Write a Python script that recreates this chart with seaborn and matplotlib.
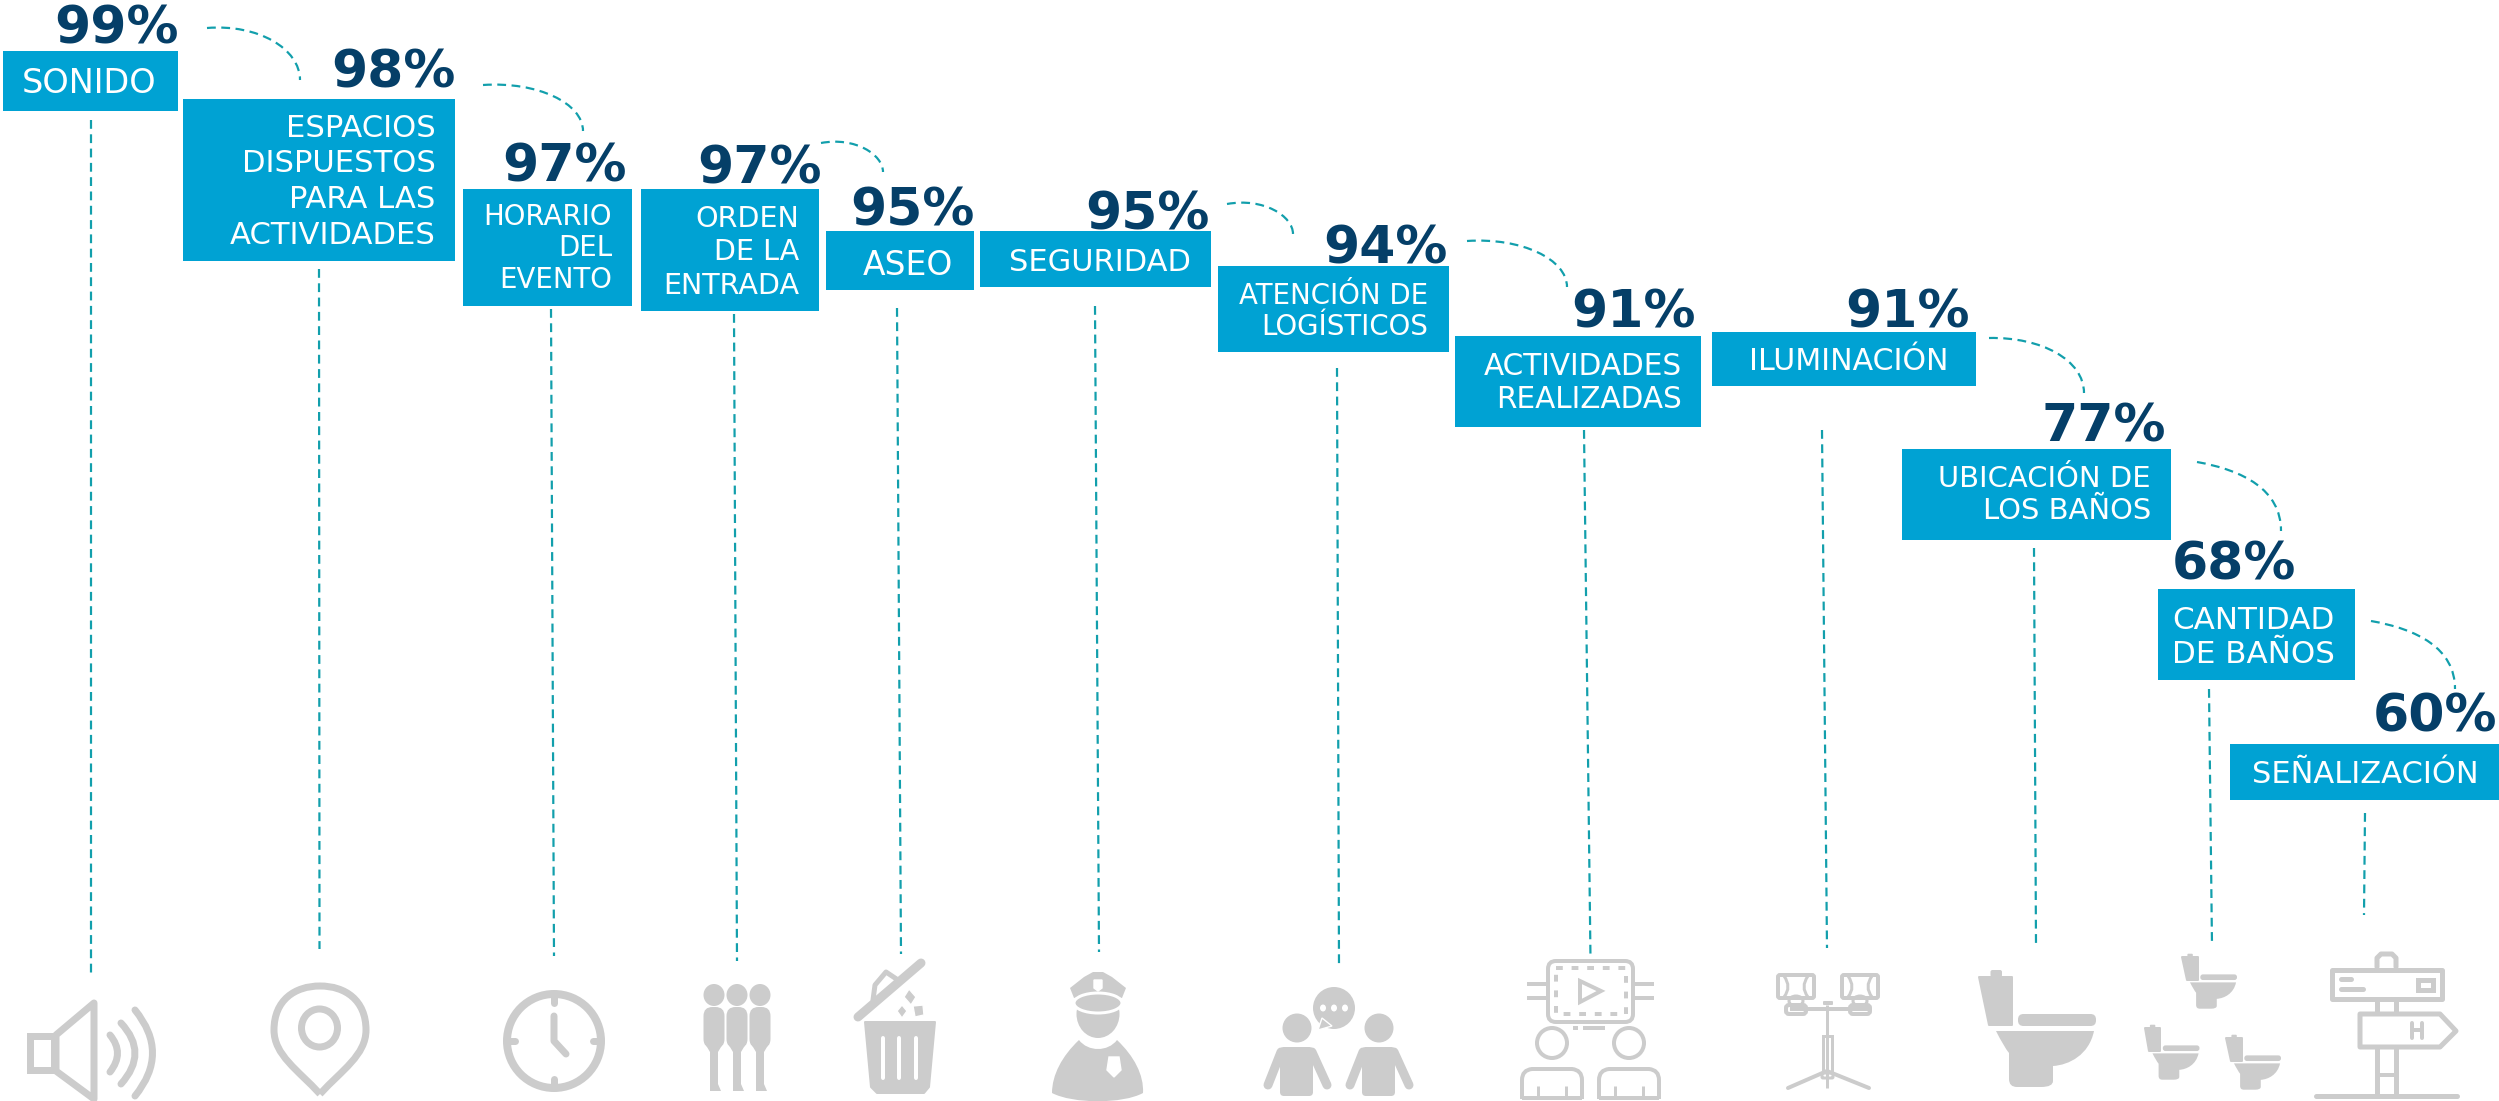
import matplotlib
matplotlib.use("Agg")
import matplotlib.pyplot as plt
import seaborn as sns
from matplotlib.patches import Ellipse, Polygon, PathPatch, Rectangle, FancyBboxPatch
from matplotlib.path import Path

# data
categories = ["SONIDO", "ESPACIOS\nDISPUESTOS\nPARA LAS\nACTIVIDADES", "HORARIO\nDEL\nEVENTO",
              "ORDEN\nDE LA\nENTRADA", "ASEO", "SEGURIDAD", "ATENCIÓN DE\nLOGÍSTICOS",
              "ACTIVIDADES\nREALIZADAS", "ILUMINACIÓN", "UBICACIÓN DE\nLOS BAÑOS",
              "CANTIDAD\nDE BAÑOS", "SEÑALIZACIÓN"]
values = [99, 98, 97, 97, 95, 95, 94, 91, 91, 77, 68, 60]

# layout, all in pixels of the 2499x1101 picture
box_x0 = [3, 183, 463, 641, 826, 980, 1218, 1455, 1712, 1902, 2158, 2230]
box_x1 = [178, 455, 632, 819, 974, 1211, 1449, 1701, 1976, 2171, 2355, 2499]
box_y0 = [51, 99, 189, 189, 231, 231, 266, 336, 332, 449, 589, 744]
box_y1 = [111, 261, 306, 311, 290, 287, 352, 427, 386, 540, 680, 800]
pct_right = [179, 456, 627, 822, 975, 1210, 1448, 1696, 1970, 2166, 2296, 2497]
pct_base = [44, 88, 182, 183, 226, 229, 263, 328, 328, 441, 579, 732]
text_right = [156, 435.5, 612, 799, 953, 1191, 1428, 1682, 1948, 2151, 2335, 2479]
text_base = [93, 137, 225, 227, 275, 271, 304, 375, 370, 487, 629, 783]
text_step = [0, 35.5, 31.5, 33.5, 0, 0, 31, 33, 0, 32, 34, 0]
text_px = [33.5, 30.6, 27.5, 28.6, 33, 30.5, 27.6, 29.5, 30, 29, 31, 30.5]

lead_x0 = [91, 319, 551, 734, 897, 1095, 1337, 1584, 1822, 2034, 2209, 2365]
lead_x1 = [91, 319.5, 554, 737, 901, 1099, 1339, 1590.5, 1827, 2036, 2212, 2364]
lead_y0 = [120, 269, 309, 314, 308, 306, 368, 430, 430, 548, 689, 813]
lead_y1 = [975, 949, 956, 961, 954, 952, 967, 959, 948, 945, 945, 915]

arc_x0 = [207, 483, 821, 1227, 1467, 1989, 2197, 2371]
arc_y0 = [28, 85, 143, 204, 241, 338, 462, 621]
arc_x1 = [300, 583, 883, 1293, 1567, 2084, 2281, 2455]
arc_y1 = [80, 131, 172, 234, 287, 393, 531, 689]
arc_slope = [-0.08, -0.08, -0.22, -0.22, -0.08, -0.02, 0.12, 0.12]

BLUE = "#00a2d3"
NAVY = "#053f68"
TEAL = "#129fac"
GRAY = "#cccccc"
DPI = 100


def px(v):
    return v * 72 / DPI


sns.set_theme(style="white")
plt.rcParams["font.family"] = ["DejaVu Sans"]

fig = plt.figure(figsize=(24.99, 11.01), dpi=DPI, facecolor="white")
ax = fig.add_axes([0, 0, 1, 1])


def stroke(xs, ys, w=5, color=GRAY, cap="round"):
    ax.plot(xs, ys, color=color, lw=px(w), solid_capstyle=cap, solid_joinstyle="round")


def shape(verts, codes=None, fill=GRAY, edge="none", w=0):
    ax.add_patch(PathPatch(Path(verts, codes), fc=fill, ec=edge, lw=px(w), joinstyle="round"))


def oval(cx, cy, rx, ry, fill=GRAY, edge="none", w=0):
    ax.add_patch(Ellipse((cx, cy), 2 * rx, 2 * ry, fc=fill, ec=edge, lw=px(w)))


def rbox(x0, y0, x1, y1, r=3, fill=GRAY, edge="none", w=0):
    ax.add_patch(FancyBboxPatch((x0 + r, y0 + r), x1 - x0 - 2 * r, y1 - y0 - 2 * r,
                                boxstyle="round,pad=%s,rounding_size=%s" % (r, r),
                                fc=fill, ec=edge, lw=px(w)))


def curve(p0, c, p1, w=5):
    ax.add_patch(PathPatch(Path([p0, c, p1], [Path.MOVETO, Path.CURVE3, Path.CURVE3]),
                           fc="none", ec=GRAY, lw=px(w), capstyle="round"))


def speaker():
    ax.add_patch(Rectangle((30, 1036), 24, 34, fc="none", ec=GRAY, lw=px(7)))
    ax.add_patch(Polygon([(56, 1035), (94, 1003), (94, 1099), (56, 1071)], closed=True,
                         fc="none", ec=GRAY, lw=px(7), joinstyle="round"))
    curve((110, 1035), (125, 1053), (110, 1072), 7)
    curve((121, 1023), (149, 1053), (121, 1084), 7)
    curve((135, 1010), (170, 1053), (135, 1096), 7)


def pin():
    v = [(320, 1094), (298, 1070), (274, 1055), (274, 1030), (274, 1000), (295, 986), (320, 986),
         (345, 986), (366, 1000), (366, 1030), (366, 1055), (342, 1070), (320, 1094)]
    c = [Path.MOVETO] + [Path.CURVE4] * 12
    shape(v, c, fill="none", edge=GRAY, w=7)
    oval(319.5, 1028, 18, 19, fill="none", edge=GRAY, w=7)


def clock():
    oval(554, 1041, 47, 47, fill="none", edge=GRAY, w=8)
    for x0, y0, x1, y1 in [(554, 995, 554, 1003), (554, 1079, 554, 1087),
                           (508, 1041, 515, 1041), (593, 1041, 600, 1041)]:
        stroke([x0, x1], [y0, y1], 7)
    stroke([554, 554, 566, ], [1016, 1041, 1054], 7)


def people():
    for x in [714, 737, 760]:
        oval(x, 995, 10.5, 11)
        rbox(x - 10.5, 1007, x + 10.5, 1048, r=9)
        ax.add_patch(Polygon([(x - 10, 1042), (x + 10, 1042), (x + 4, 1052), (x - 4, 1052)], fc=GRAY, ec="none"))
        ax.add_patch(Rectangle((x - 4, 1048), 8, 43, fc=GRAY, ec="none"))
        ax.add_patch(Polygon([(x + 4, 1084), (x + 7, 1091), (x + 3, 1091)], fc=GRAY, ec="none"))


def trash():
    ax.add_patch(Polygon([(865, 1022), (935, 1022), (929, 1087), (924, 1093), (877, 1093), (871, 1087)],
                         closed=True, fc=GRAY, ec=GRAY, lw=px(2), joinstyle="round"))
    for x in [883, 899, 916]:
        stroke([x, x], [1038, 1078], 4, color="white")
    stroke([858, 921], [1017, 963], 9)
    ax.add_patch(Polygon([(873, 1000), (875, 985), (886, 972), (898, 980), (880, 1000)],
                         fc="none", ec=GRAY, lw=px(5), joinstyle="round"))
    ax.add_patch(Polygon([(909, 989), (916, 997), (911, 1005), (904, 997)], fc=GRAY))
    ax.add_patch(Polygon([(902, 1005), (907, 1011), (902, 1018), (897, 1011)], fc=GRAY))
    ax.add_patch(Polygon([(913, 1006), (923, 1005), (924, 1015), (915, 1017)], fc=GRAY))


def police():
    x = 1098
    oval(x, 1014, 21.5, 24)
    shape([(x - 28, 988), (x - 14, 977), (x - 5, 972), (x + 5, 972), (x + 14, 977), (x + 28, 988),
           (x + 24, 998), (x, 992), (x - 24, 998)])
    oval(x, 1003, 24, 10, edge="white", w=3)
    ax.add_patch(Polygon([(x - 4, 980), (x + 4, 980), (x + 4, 988), (x, 991), (x - 4, 988)], fc="white"))
    v = [(x - 19, 1040), (x - 36, 1056), (x - 46, 1075), (x - 46, 1093), (x - 25, 1104), (x + 25, 1104),
         (x + 45, 1093), (x + 46, 1075), (x + 36, 1056), (x + 19, 1040), (x + 10, 1052), (x - 10, 1052),
         (x - 19, 1040)]
    c = [Path.MOVETO] + [Path.CURVE4] * 12
    shape(v, c)
    ax.add_patch(Polygon([(x + 11, 1057), (x + 21, 1057), (x + 23, 1070), (x + 16, 1077), (x + 9, 1070)], fc="white"))


def chat():
    for x in [1297, 1379]:
        oval(x, 1028, 14.5, 14.5)
        rbox(x - 17, 1047, x + 16, 1096, r=4)
        stroke([x - 16, x - 29], [1052, 1085], 9)
        stroke([x + 15, x + 30], [1052, 1085], 9)
    oval(1334, 1008, 21, 21)
    ax.add_patch(Polygon([(1322, 1018), (1332, 1026), (1318, 1030)], fc=GRAY))
    for x in [1323, 1334, 1345]:
        oval(x, 1008, 3, 3.5, fill="white")


def video():
    rbox(1548, 961, 1633, 1022, r=8, fill="none", edge=GRAY, w=4)
    ax.plot([1556, 1626, 1626, 1556, 1556], [968, 968, 1014, 1014, 968], color=GRAY, lw=px(4),
            linestyle=(0, (1.7, 2.2)))
    ax.add_patch(Polygon([(1580, 981), (1580, 1002), (1601, 991)], fc="none", ec=GRAY, lw=px(4)))
    for y in [984, 998]:
        stroke([1527, 1548], [y, y], 4, cap="butt")
        stroke([1633, 1654], [y, y], 4, cap="butt")
    stroke([1573, 1578], [1028, 1028], 4, cap="butt")
    stroke([1583, 1605], [1028, 1028], 4, cap="butt")
    for x0, x1 in [(1522, 1582), (1599, 1659)]:
        oval((x0 + x1) / 2, 1043, 15, 15, fill="none", edge=GRAY, w=4)
        v = [(x0, 1099), (x0, 1080), (x0, 1070), (x0 + 10, 1069), (x1 - 10, 1069), (x1, 1070), (x1, 1080), (x1, 1099)]
        c = [Path.MOVETO, Path.LINETO, Path.CURVE3, Path.CURVE3, Path.LINETO, Path.CURVE3, Path.CURVE3, Path.LINETO]
        shape(v, c, fill="none", edge=GRAY, w=4)
        stroke([x0, x1], [1098, 1098], 4, cap="butt")
        stroke([x0 + 16, x0 + 16], [1086, 1098], 3, cap="butt")
        stroke([x1 - 16, x1 - 16], [1086, 1098], 3, cap="butt")


def lamp():
    stroke([1827, 1827], [1005, 1088], 3, cap="butt")
    ax.add_patch(Rectangle((1823, 1036), 9, 36, fc="none", ec=GRAY, lw=px(3)))
    stroke([1788, 1827, 1869], [1088, 1071, 1088], 4)
    rbox(1822, 1073, 1833, 1078, r=1, fill="white", edge=GRAY, w=3)
    stroke([1790, 1868], [1009, 1009], 4, cap="butt")
    rbox(1823, 1001, 1833, 1005, r=1)
    for x0, x1 in [(1778, 1814), (1842, 1878)]:
        rbox(x0, 975, x1, 998, r=2, fill="none", edge=GRAY, w=4)
        mid = (x0 + x1) / 2
        curve((x0 + 6, 976), (x0 + 14, 987), (x0 + 6, 997), 3)
        curve((x1 - 6, 976), (x1 - 14, 987), (x1 - 6, 997), 3)
        oval(mid, 1001, 7, 5, fill="none", edge=GRAY, w=3)
        rbox(mid - 10, 1005, mid + 10, 1014, r=3, fill="white", edge=GRAY, w=4)


def toilet(x, y, s):
    # x, y is the top left corner of the tank
    def p(a, b):
        return (x + a * s, y + b * s)
    ax.add_patch(Polygon([p(0, 0), p(33, 0), p(33, 48), p(10, 48)], fc=GRAY, ec=GRAY, lw=px(2), joinstyle="round"))
    rbox(x + 11.5 * s, y - 7 * s, x + 23 * s, y, r=2 * s)
    rbox(x + 39 * s, y + 37 * s, x + 117 * s, y + 49 * s, r=5.5 * s)
    v = [p(17, 54), p(115, 54), p(110, 78), p(90, 88), p(74, 89), p(74, 104), p(74, 110), p(62, 110),
         p(38, 110), p(30, 110), p(30, 102), p(30, 76), p(25, 70), p(17, 54)]
    c = [Path.MOVETO, Path.LINETO, Path.CURVE4, Path.CURVE4, Path.CURVE4, Path.LINETO, Path.CURVE3, Path.CURVE3,
         Path.LINETO, Path.CURVE3, Path.CURVE3, Path.LINETO, Path.CURVE3, Path.CURVE3]
    shape(v, c)


def signpost():
    w = 5
    stroke([2377, 2377, 2381, 2392, 2396, 2396], [967, 958, 954, 954, 958, 967], w)
    ax.add_patch(Rectangle((2332, 970), 110, 29, fc="none", ec=GRAY, lw=px(w), joinstyle="round"))
    stroke([2341, 2351], [979, 979], w)
    stroke([2341, 2363], [989, 989], w)
    ax.add_patch(Rectangle((2418, 980), 15, 10, fc="none", ec=GRAY, lw=px(w)))
    ax.add_patch(Polygon([(2360, 1014), (2440, 1014), (2456, 1031), (2440, 1047), (2360, 1047)],
                         closed=True, fc="none", ec=GRAY, lw=px(w), joinstyle="round"))
    stroke([2412, 2412], [1023, 1038], 4)
    stroke([2422, 2422], [1023, 1038], 4)
    stroke([2412, 2422], [1030, 1030], 4)
    for x in [2377, 2396]:
        stroke([x, x], [1000, 1013], w, cap="butt")
        stroke([x, x], [1047, 1096], w, cap="butt")
    stroke([2377, 2396], [1075, 1075], 4, cap="butt")
    stroke([2316, 2457], [1096, 1096], w)


# boxes
ax.bar(box_x0, [b - a for a, b in zip(box_y0, box_y1)],
       width=[b - a for a, b in zip(box_x0, box_x1)], bottom=box_y0, align="edge",
       color=BLUE, linewidth=0)

# straight leader lines
for i in range(len(lead_x0)):
    sns.lineplot(x=[lead_x0[i], lead_x1[i]], y=[lead_y0[i], lead_y1[i]], ax=ax, color=TEAL,
                 linewidth=px(2.2), linestyle=(0, (4, 2.5)), estimator=None, sort=False, legend=False)

# curved connectors
for x0, y0, x1, y1, sl in zip(arc_x0, arc_y0, arc_x1, arc_y1, arc_slope):
    dx, dy = x1 - x0, y1 - y0
    verts = [(x0, y0), (x0 + 0.55 * dx, y0 + sl * dy), (x1, y0 + 0.4 * dy), (x1, y1)]
    ax.add_patch(PathPatch(Path(verts, [Path.MOVETO, Path.CURVE4, Path.CURVE4, Path.CURVE4]),
                           fc="none", ec=TEAL, lw=px(2.2), linestyle=(0, (4, 2.5))))

# labels and percentages
for i, cat in enumerate(categories):
    ax.text(pct_right[i], pct_base[i], "%d%%" % values[i], ha="right", va="baseline",
            fontsize=px(52), fontweight="bold", color=NAVY)
    for j, line in enumerate(cat.split("\n")):
        ax.text(text_right[i], text_base[i] + j * text_step[i], line, ha="right", va="baseline",
                fontsize=px(text_px[i]), color="white")

speaker()
pin()
clock()
people()
trash()
police()
chat()
video()
lamp()
toilet(1979, 977, 1)
toilet(2182, 957, 0.47)
toilet(2144.5, 1028, 0.47)
toilet(2226, 1038, 0.47)
signpost()

ax.set_xlim(0, 2499)
ax.set_ylim(1101, 0)
ax.axis("off")

fig.savefig("out.png", dpi=DPI, facecolor="white")
